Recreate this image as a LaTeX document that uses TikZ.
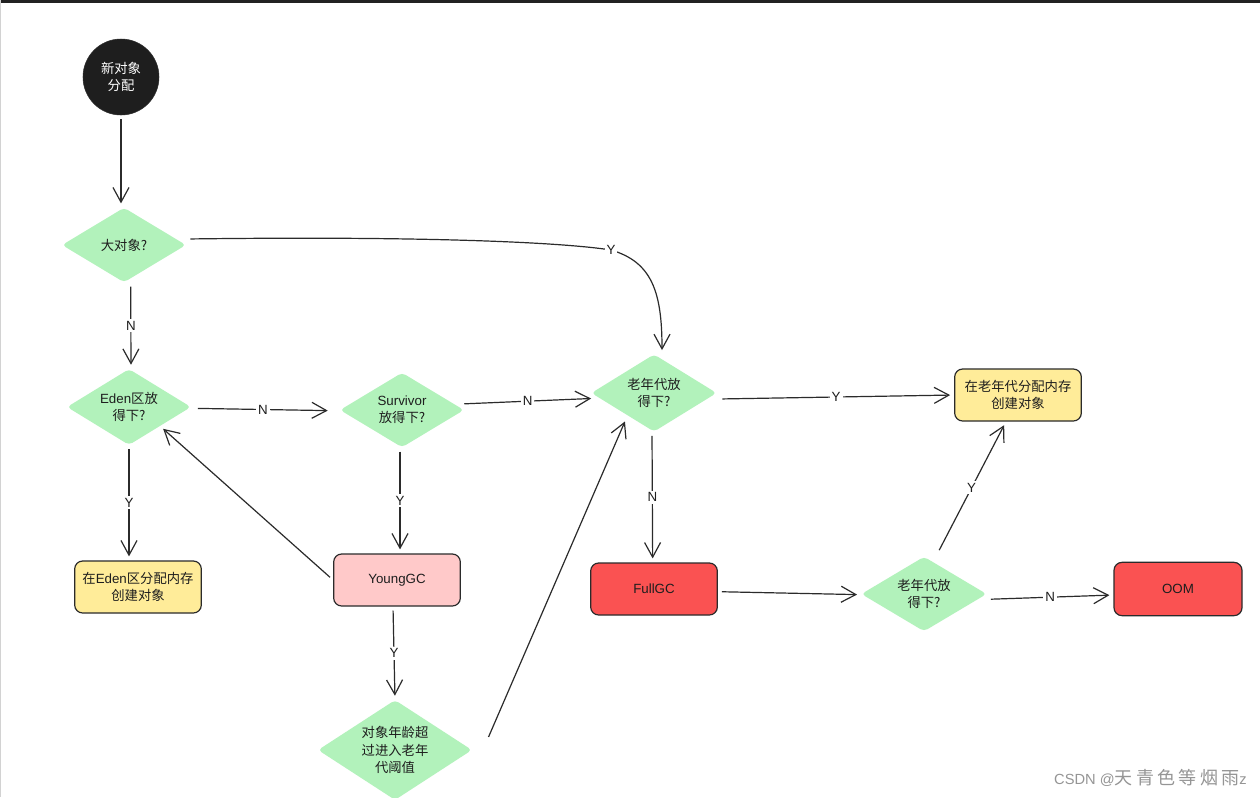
\documentclass[tikz,border=0pt]{standalone}
\usepackage{fontspec}
\setmainfont{Liberation Sans}
\newfontfamily\cjk{Noto Sans CJK SC}
\usetikzlibrary{shapes.geometric,arrows.meta,calc}
\newcommand\zh[1]{{\cjk #1}}
\definecolor{linec}{HTML}{2B2B2B}
\definecolor{textc}{HTML}{1E1E1E}
\definecolor{topbar}{HTML}{222222}
\definecolor{dgreen}{HTML}{B2F2BB}
\definecolor{byellow}{HTML}{FFEC99}
\definecolor{bpink}{HTML}{FFC9C9}
\definecolor{bred}{HTML}{FA5252}
\definecolor{wmark}{HTML}{959595}
\tikzset{
  txt/.style={text=textc, font=\fontsize{10}{13}\selectfont, align=center},
  decision/.style={txt, diamond, fill=dgreen, draw=none, rounded corners=3pt, inner sep=0pt, aspect=1.6},
  box/.style={txt, rectangle, rounded corners=6pt, draw=linec, line width=0.9pt, minimum width=95pt, minimum height=39pt, inner sep=0pt},
  arr/.style={draw=linec, line width=0.9pt, -{Straight Barb[length=11pt,width=12pt,line width=0.9pt]}, shorten >=3pt, shorten <=3pt},
  lab/.style={txt, fill=white, inner sep=1.5pt},
}
\begin{document}
\begin{tikzpicture}[x=0.75pt,y=-0.75pt]
\useasboundingbox (0,0) rectangle (1260,797);
\clip (0,0) rectangle (1260,797);
\fill[white] (0,0) rectangle (1260,797);
\fill[topbar] (0,0) rectangle (1260,2.5);
\fill[gray!35] (0,0) rectangle (1.3,797);

% nodes
\node[circle, fill=textc, draw=linec, minimum size=57pt, inner sep=0pt, txt, text=white] (start) at (121,77) {\zh{新对象}\\\zh{分配}};
\node[decision, minimum width=93pt, minimum height=56pt] (big) at (124,245) {\zh{大对象?}};
\node[decision, minimum width=93pt, minimum height=57pt] (eden) at (129,407) {Eden\zh{区放}\\\zh{得下?}};
\node[decision, minimum width=93pt, minimum height=56pt] (surv) at (402,410) {Survivor\\\zh{放得下?}};
\node[decision, minimum width=94pt, minimum height=58pt] (old1) at (654,393) {\zh{老年代放}\\\zh{得下?}};
\node[box, fill=byellow] (oldbox) at (1018,395) {\zh{在老年代分配内存}\\\zh{创建对象}};
\node[box, fill=byellow] (edenbox) at (138,587) {\zh{在}Eden\zh{区分配内存}\\\zh{创建对象}};
\node[box, fill=bpink] (young) at (397,580) {YoungGC};
\node[decision, minimum width=115.5pt, minimum height=75pt, aspect=1.54] (age) at (395,750) {\zh{对象年龄超}\\\zh{过进入老年}\\\zh{代阈值}};
\node[box, fill=bred] (full) at (654,589) {FullGC};
\node[decision, minimum width=94pt, minimum height=56pt] (old2) at (924,594) {\zh{老年代放}\\\zh{得下?}};
\node[box, fill=bred, minimum width=96pt, minimum height=40pt] (oom) at (1178,589) {OOM};

% connectors
\draw[arr] (start.south) -- (start.south |- big.north);

\coordinate (ybend) at (611,250);
\draw[arr] ([yshift=4.5pt]big.east) .. controls (420,236) and (560,242) .. (ybend)
  .. controls (652,262) and (662,292) .. ([xshift=6pt]old1.north);
\node[lab] at (ybend) {Y};

\draw[arr] ([xshift=5pt]big.south) -- node[lab]{N} ([xshift=1.5pt]eden.north);
\draw[arr] ([xshift=2pt,yshift=-1pt]eden.east) -- node[lab]{N} ([xshift=-6pt,yshift=-0.5pt]surv.west);
\draw[arr] ([xshift=-3pt,yshift=4.5pt]surv.east) -- node[lab]{N} ([xshift=3pt,yshift=-4pt]old1.west);
\draw[arr] ([xshift=1pt,yshift=-4.5pt]old1.east) -- node[lab]{Y} (oldbox.west);

\draw[arr] (eden.south) -- node[lab]{Y} (eden.south |- edenbox.north);
\draw[arr] ([xshift=-1.5pt]surv.south) -- node[lab]{Y} ([xshift=-1.5pt]surv.south |- young.north);
\draw[arr] (young.west) -- (eden.south east);
\draw[arr] ([xshift=-3pt]young.south) -- node[lab]{Y} (age.north);
\draw[arr] ([xshift=11pt,yshift=7pt]age.east) -- ([xshift=3pt,yshift=-4pt]old1.south west);

\draw[arr] ([xshift=-1.5pt]old1.south) -- node[lab]{N} ([xshift=-1pt]full.north);
\draw[arr] ([yshift=-2pt]full.east) -- ([yshift=-0.5pt]old2.west);
\draw[arr] ([yshift=-4pt]old2.east) -- node[lab]{N} ([yshift=-4.5pt]oom.west);
\draw[arr] ([xshift=10pt,yshift=2pt]old2.north) -- node[lab]{Y} ([xshift=-9pt]oldbox.south);

% watermark
\node[text=wmark, anchor=east, inner sep=0pt, font=\fontsize{11}{12}\selectfont] (wm) at (1247,778)
  {CSDN @{\cjk\fontsize{13.5}{14}\selectfont 天\hspace{2.5pt}青\hspace{2.5pt}色\hspace{2.5pt}等\hspace{2.5pt}烟\hspace{2.5pt}雨}z};
\end{tikzpicture}
\end{document}
